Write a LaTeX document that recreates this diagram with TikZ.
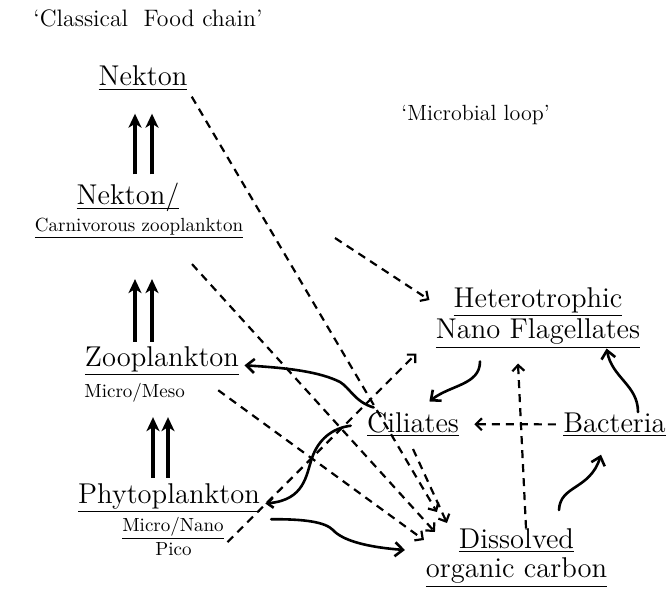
\documentclass[tikz,border=0pt]{standalone}
\usepackage{fontspec}
\usetikzlibrary{arrows.meta, positioning, calc}
\tikzset{
  taxon/.style={inner sep=0pt, anchor=base, align=center,
                font=\fontsize{14.3}{15.5}\selectfont},
  subtaxon/.style={inner sep=0pt, anchor=base, font=\fontsize{9.5}{11}\selectfont},
  heading/.style={inner sep=0pt, anchor=base west, font=\fontsize{11.9}{13}\selectfont},
  chain/.style={-{Stealth[length=7pt,width=6.5pt,inset=2pt]}, line width=1.6pt},
  feed/.style={-{Straight Barb[length=4pt,width=7pt]}, line width=1.3pt, line cap=round},
  flux/.style={-{Straight Barb[length=3pt,width=6pt]}, line width=1.1pt,
               dash pattern=on 4pt off 3pt},
}
\begin{document}
\begin{tikzpicture}[x=0.5pt, y=-0.5pt]
  \useasboundingbox (0,0) rectangle (668,588);

  % --- classical food chain (left column) ---
  \node[heading] (classic) at (33,27) {`Classical~~Food chain'};
  \node[taxon] (nekton) at (143,86) {\underline{Nekton}};
  \node[taxon] (nekcarn) at (128,205) {\underline{Nekton\smash{/}}};
  \node[subtaxon] (carn) at (139,231) {\underline{Carnivorous zooplankton}};
  \node[taxon] (zoo) at (162,366) {\underline{Zooplankton}};
  \node[subtaxon, anchor=base west] (mm) at (84,397) {Micro/Meso};
  \node[taxon] (phyto) at (169,503) {\underline{Phytoplankton}};
  \node[subtaxon] (micnano) at (173,531) {\underline{Micro/Nano}};
  \node[subtaxon] (pico) at (173.5,555) {Pico};

  % --- microbial loop (right side) ---
  \node[heading, font=\fontsize{11}{12}\selectfont] (loop) at (401,121) {`Microbial loop'};
  \node[taxon, anchor=north] (hnf) at (538,287)
       {\underline{Heterotrophic}\\\underline{Nano Flagellates}};
  \node[taxon] (cil) at (413,432) {\underline{Ciliates}};
  \node[taxon] (bac) at (614.5,432) {\underline{Bacteria}};
  \node[taxon, anchor=north, font=\fontsize{14.3}{14.5}\selectfont] (doc) at (516.5,528)
       {\underline{Dissolved}\\\underline{organic carbon}};

  % ends of the dashed fluxes into the DOC pool
  \coordinate (docA) at ([shift={(11.5,-16)}]doc.north west);
  \coordinate (docB) at ([shift={(21.5,-5)}]doc.north west);
  \coordinate (docC) at ([shift={(9.5,4)}]doc.north west);
  \coordinate (docD) at ([shift={(-1.5,12)}]doc.north west);
  \coordinate (loose) at (335,238);

  % Trophic steps
  \draw[chain, shorten <=2.5pt, shorten >=7.5pt] ([xshift=-8pt]phyto.north) -- ([xshift=-8pt]phyto.north |- mm.south);
  \draw[chain, shorten <=2.5pt, shorten >=7.5pt] ([xshift=-0.5pt]phyto.north) -- ([xshift=-0.5pt]phyto.north |- mm.south);
  \draw[chain, shorten <=2pt, shorten >=20pt] ([xshift=-13.5pt]zoo.north) -- ([xshift=-13.5pt]zoo.north |- carn.south);
  \draw[chain, shorten <=2pt, shorten >=20pt] ([xshift=-5pt]zoo.north) -- ([xshift=-5pt]zoo.north |- carn.south);
  \draw[chain, shorten <=5.25pt, shorten >=11.5pt] ([xshift=3.5pt]nekcarn.north) -- ([xshift=3.5pt]nekcarn.north |- nekton.south);
  \draw[chain, shorten <=5.25pt, shorten >=11.5pt] ([xshift=12pt]nekcarn.north) -- ([xshift=12pt]nekcarn.north |- nekton.south);

  % Dashed fluxes
  \draw[flux] ([shift={(4,6)}]nekton.south east) -- (docA);
  \draw[flux] ([shift={(53,25)}]carn.south) -- (docC);
  \draw[flux] ([shift={(33,-2)}]mm.east) -- (docD);
  \draw[flux] ([yshift=-6pt]cil.south) -- (docB);
  \draw[flux] ([shift={(35.5,-6.5)}]pico.east) -- ([shift={(-19,5)}]hnf.south west);
  \draw[flux] (loose) -- ([shift={(-6,13)}]hnf.north west);
  \draw[flux] ([xshift=-3.5pt]bac.west) -- ([xshift=7.5pt]cil.east);
  \draw[flux] ([xshift=4.75pt]doc.north) -- ([shift={(-20,15)}]hnf.south);

  % Solid fluxes
  \draw[feed] ([shift={(7,-4)}]cil.north west) .. controls (355,402) and (350,388) .. (340,382)
              .. controls (320,372) and (290,368) .. ([shift={(5,4.5)}]zoo.east);
  \draw[feed, {Straight Barb[length=3pt,width=5pt]}-] ([shift={(5,5.5)}]phyto.east) .. controls (305,500) and (306,475) .. (312,458)
              .. controls (318,440) and (332,428) .. ([shift={(-16,1.5)}]cil.west);
  \draw[feed] ([shift={(11,6)}]phyto.south east) .. controls (305,519) and (325,522) .. (333,530)
              .. controls (342,540) and (365,547) .. ([shift={(-20.5,22)}]doc.north west);
  \draw[feed] ([shift={(-58,13)}]hnf.south) .. controls (480,385) and (450,385) .. ([shift={(-30,-10)}]cil.north east);
  \draw[feed] ([xshift=11.75pt]bac.north) .. controls (638,385) and (612,378) .. ([shift={(-34,0)}]hnf.south east);
  \draw[feed] ([shift={(42.5,-18)}]doc.north) .. controls (560,485) and (590,490) .. ([shift={(-13.5,18)}]bac.south);

\end{tikzpicture}
\end{document}
